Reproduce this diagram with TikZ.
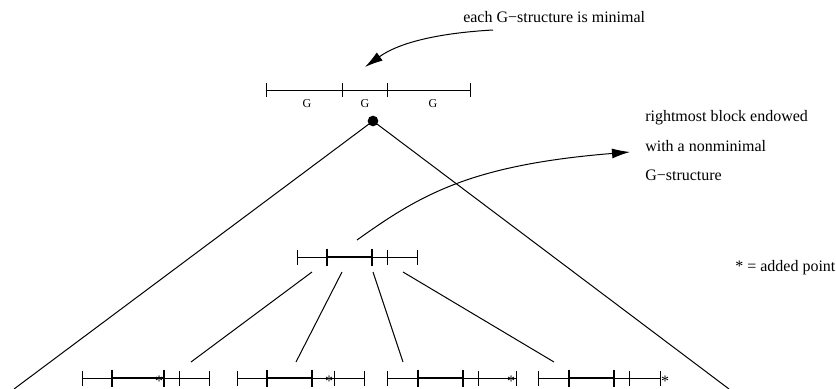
\documentclass[tikz,border=0pt]{standalone}
\usepackage{fontspec}
\setmainfont{Liberation Serif}
\usetikzlibrary{arrows.meta}
\newcommand{\mybar}[6]{%
  \draw[thinline] (#2,#1) -- (#6,#1);
  \draw[thickseg] (#3,#1) -- (#4,#1);
  \foreach \t in {#2,#5,#6} \draw[thinline] (\t,#1-7.5) -- (\t,#1+7.5);
  \foreach \t in {#3,#4} \draw[thickseg] (\t,#1-8.5) -- (\t,#1+8.5);
}
\begin{document}
\begin{tikzpicture}[x=0.75pt,y=-0.75pt,
  thinline/.style={line width=0.75pt},
  thickseg/.style={line width=2pt},
  lbl/.style={font=\fontsize{12}{14}\selectfont, inner sep=0pt, anchor=base west},
  glabel/.style={font=\fontsize{9}{10}\selectfont, inner sep=0pt, anchor=base},
  ast/.style={font=\fontsize{12}{14}\selectfont, inner sep=0pt, anchor=base},
  arr/.style={line width=0.75pt, -{Latex[length=13.5pt,width=7.5pt]}}
]
\useasboundingbox (0,0) rectangle (836,389);

% top bar
\draw[thinline] (266,90) -- (470,90);
\foreach \t in {266,342,387,470} \draw[thinline] (\t,83) -- (\t,97);
\node[glabel] (g1) at (307,107) {G};
\node[glabel] (g2) at (365,107) {G};
\node[glabel] (g3) at (433,107) {G};

% root dot
\node[circle, fill, inner sep=0pt, minimum size=8pt] (dot) at (373,121) {};
\coordinate (bl) at (14,389);
\coordinate (br) at (729,389);
\draw[thinline] (dot.center) -- (bl);
\draw[thinline] (dot.center) -- (br);

% middle bar
\mybar{257}{297}{327}{372}{387}{417}

% bottom bars
\mybar{378}{82}{112}{164}{179}{209}
\node[ast] (a1) at (159,386) {*};
\mybar{378}{237}{267}{312}{334}{364}
\node[ast] (a2) at (329,386) {*};
\mybar{378}{387}{418}{463}{478}{516}
\node[ast] (a3) at (511,386) {*};
\mybar{378}{538}{569}{614}{629}{660}
\node[ast] (a4) at (665,386) {*};

% connectors middle -> bottom
\coordinate (m1) at (312,272); \coordinate (e1) at (191,362);
\coordinate (m2) at (342,272); \coordinate (e2) at (296,362);
\coordinate (m3) at (373,272); \coordinate (e3) at (403,362);
\coordinate (m4) at (403,272); \coordinate (e4) at (554,362);
\draw[thinline] (m1) -- (e1);
\draw[thinline] (m2) -- (e2);
\draw[thinline] (m3) -- (e3);
\draw[thinline] (m4) -- (e4);

% texts
\node[lbl] (t1) at (463,22) {each G−structure is minimal};
\node[lbl] (t2) at (645,121) {rightmost block endowed};
\node[lbl] (t3) at (645,151) {with a nonminimal};
\node[lbl] (t4) at (645,180) {G−structure};
\node[lbl] (t5) at (735,271) {* = added point};

% arrows
\coordinate (s1) at (493,30); \coordinate (p1) at (365,67);
\draw[arr] (s1) .. controls (440,33) and (400,42) .. (p1);
\coordinate (s2) at (357,240); \coordinate (p2) at (630,152);
\draw[arr] (s2) .. controls (420,195) and (470,165) .. (p2);
\end{tikzpicture}
\end{document}
